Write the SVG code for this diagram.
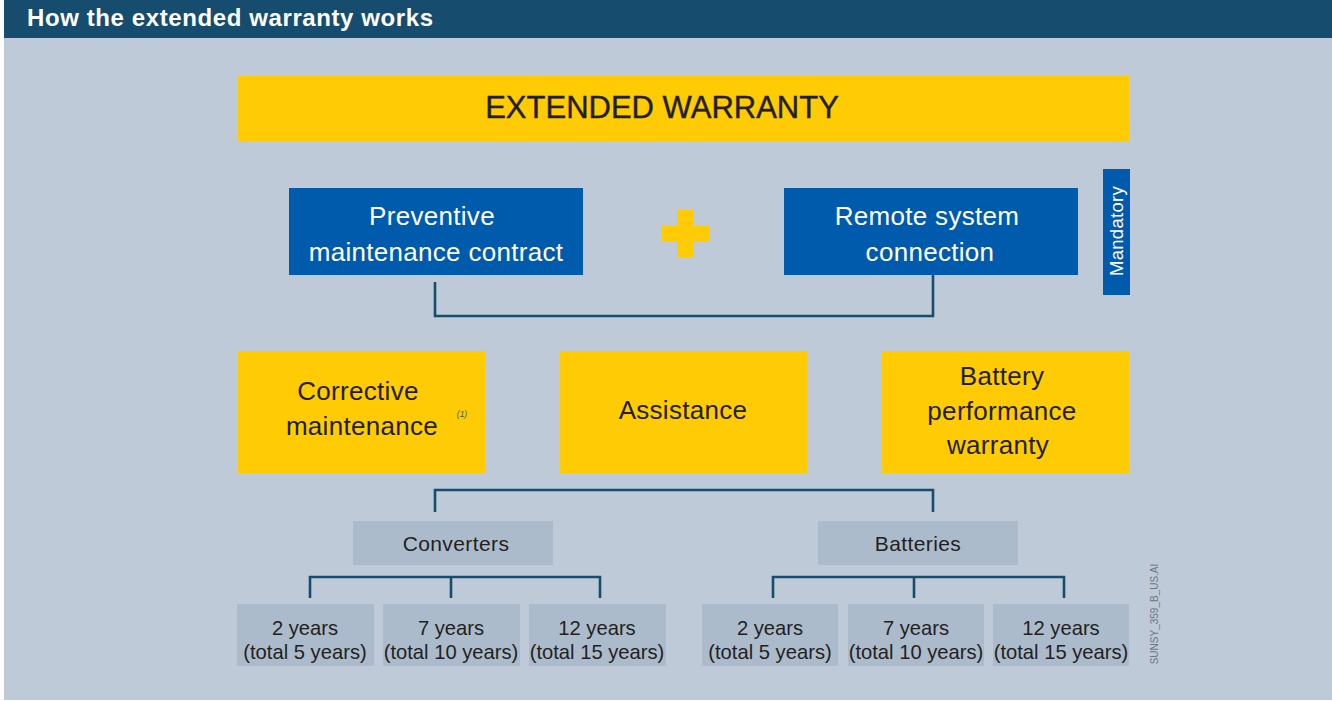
<svg xmlns="http://www.w3.org/2000/svg" width="1332" height="701" viewBox="0 0 1332 701">
<style>
text{font-family:"Liberation Sans",Arial,sans-serif}
.yel{fill:#FFCB05}
.blu{fill:#005BAC}
.gry{fill:#ABBBCC}
.dk{fill:#231F20}
.wt{fill:#FFFFFF}
.ln{fill:none;stroke:#164C6E;stroke-width:2.6}
.big{font-size:26px;letter-spacing:0.3px}
.mid{font-size:20.2px}
</style>
<rect x="0" y="0" width="1332" height="701" fill="#FFFFFF"/>
<rect x="4" y="0" width="1328" height="700" fill="#BFCAD8"/>
<rect x="4" y="0" width="1328" height="38" fill="#164C6E"/>
<text x="27" y="26" class="wt" font-size="24" font-weight="bold" letter-spacing="0.6">How the extended warranty works</text>

<g id="extended-warranty">
<rect x="238" y="76" width="891" height="65" class="yel"/>
<text x="662" y="118" text-anchor="middle" class="dk" font-size="31" stroke="#231F20" stroke-width="0.4">EXTENDED WARRANTY</text>
</g>
<g id="preventive">
<rect x="289" y="188" width="294" height="87" class="blu"/>
<text x="432" y="225" text-anchor="middle" class="wt big">Preventive</text>
<text x="436" y="261" text-anchor="middle" class="wt big">maintenance contract</text>
</g>
<g id="plus">
<rect x="677" y="210" width="16" height="47" class="yel"/>
<rect x="662" y="226" width="47" height="16" class="yel"/>
</g>
<g id="remote">
<rect x="784" y="188" width="294" height="87" class="blu"/>
<text x="927" y="225" text-anchor="middle" class="wt big">Remote system</text>
<text x="930" y="261" text-anchor="middle" class="wt big">connection</text>
</g>
<g id="mandatory">
<rect x="1103" y="169" width="27" height="126" class="blu"/>
<text transform="translate(1123,231) rotate(-90)" text-anchor="middle" class="wt" font-size="18.5" letter-spacing="0.3">Mandatory</text>
</g>
<g id="corrective">
<rect x="238" y="351" width="247" height="122" class="yel"/>
<text x="358" y="400" text-anchor="middle" class="dk big">Corrective</text>
<text x="362" y="435" text-anchor="middle" class="dk big">maintenance</text>
<text x="462" y="417" text-anchor="middle" fill="#555" font-size="8.5" font-style="italic">(1)</text>
</g>
<g id="assistance">
<rect x="560" y="351" width="247" height="122" class="yel"/>
<text x="683" y="419" text-anchor="middle" class="dk big">Assistance</text>
</g>
<g id="battery-performance">
<rect x="882" y="351" width="247" height="122" class="yel"/>
<text x="1002" y="385" text-anchor="middle" class="dk big">Battery</text>
<text x="1002" y="420" text-anchor="middle" class="dk big">performance</text>
<text x="998" y="454" text-anchor="middle" class="dk big">warranty</text>
</g>
<g id="converters">
<rect x="353" y="521" width="200" height="44" class="gry"/>
<text x="456" y="551" text-anchor="middle" class="dk" font-size="21" letter-spacing="0.4">Converters</text>
</g>
<g id="batteries">
<rect x="818" y="521" width="200" height="44" class="gry"/>
<text x="918" y="551" text-anchor="middle" class="dk" font-size="21" letter-spacing="0.4">Batteries</text>
</g>
<g id="conv-2">
<rect x="237" y="604" width="137" height="62" class="gry"/>
<text x="305" y="635" text-anchor="middle" class="dk mid">2 years</text>
<text x="305" y="659" text-anchor="middle" class="dk mid">(total 5 years)</text>
</g>
<g id="conv-7">
<rect x="383" y="604" width="137" height="62" class="gry"/>
<text x="451" y="635" text-anchor="middle" class="dk mid">7 years</text>
<text x="451" y="659" text-anchor="middle" class="dk mid">(total 10 years)</text>
</g>
<g id="conv-12">
<rect x="529" y="604" width="137" height="62" class="gry"/>
<text x="597" y="635" text-anchor="middle" class="dk mid">12 years</text>
<text x="597" y="659" text-anchor="middle" class="dk mid">(total 15 years)</text>
</g>
<g id="bat-2">
<rect x="702" y="604" width="136" height="62" class="gry"/>
<text x="770" y="635" text-anchor="middle" class="dk mid">2 years</text>
<text x="770" y="659" text-anchor="middle" class="dk mid">(total 5 years)</text>
</g>
<g id="bat-7">
<rect x="848" y="604" width="136" height="62" class="gry"/>
<text x="916" y="635" text-anchor="middle" class="dk mid">7 years</text>
<text x="916" y="659" text-anchor="middle" class="dk mid">(total 10 years)</text>
</g>
<g id="bat-12">
<rect x="993" y="604" width="136" height="62" class="gry"/>
<text x="1061" y="635" text-anchor="middle" class="dk mid">12 years</text>
<text x="1061" y="659" text-anchor="middle" class="dk mid">(total 15 years)</text>
</g>
<g id="connectors">
<path class="ln" d="M435,282 V316 H933 V275"/>
<path class="ln" d="M435,512 V490 H933 V512"/>
<path class="ln" d="M310,598 V577 H600 V598 M451,577 V598"/>
<path class="ln" d="M773,598 V577 H1064 V598 M914,577 V598"/>
</g>
<text transform="translate(1158,614) rotate(-90)" text-anchor="middle" fill="#6E7780" font-size="10">SUNSY_359_B_US.AI</text>
</svg>
